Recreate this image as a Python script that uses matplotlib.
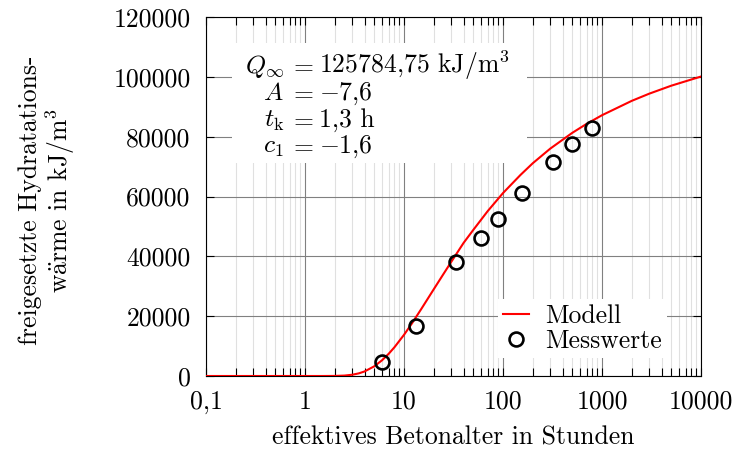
import numpy as np
import matplotlib
matplotlib.use('Agg')
import matplotlib.pyplot as plt
from matplotlib.patches import Rectangle

plt.rcParams['font.family'] = 'serif'
plt.rcParams['font.serif'] = ['cmr10']
plt.rcParams['mathtext.fontset'] = 'cm'
plt.rcParams['axes.formatter.use_mathtext'] = True
plt.rcParams['font.size'] = 18.5

# Modell
t_model = [0.1, 0.5, 1, 1.5, 2, 2.5, 3, 3.5, 4, 5, 6, 7, 8, 10, 12, 15, 20, 25, 30,
           40, 50, 70, 100, 150, 200, 300, 500, 700, 1000, 2000, 3000, 5000, 10000]
q_model = [0, 0, 0, 1, 25, 141, 419, 884, 1527, 3229, 5255, 7419, 9594, 13760, 17540,
           22480, 29020, 34060, 38150, 44500, 48790, 55100, 61150, 67190, 71130, 76000,
           81260, 84290, 87170, 91980, 94370, 97030, 100100]

# Messwerte
t_mess = [6.0, 13.2, 33.5, 59.6, 89.7, 156.7, 317.6, 494, 798]
q_mess = [4700, 16800, 38000, 46200, 52500, 61100, 71400, 77500, 83000]

x_ticks = [0.1, 1, 10, 100, 1000, 10000]
x_labels = ['0,1', '1', '10', '100', '1000', '10000']
y_ticks = [0, 20000, 40000, 60000, 80000, 100000, 120000]

fig = plt.figure(figsize=(7.37, 4.59), dpi=100)
ax = fig.add_axes([206 / 737, 1 - 376 / 459, 495 / 737, 359 / 459])

ax.plot(t_model, q_model, color='red', lw=1.5, zorder=3, label='Modell')
ax.plot(t_mess, q_mess, 'o', ms=10, mfc='none', mec='black', mew=1.9, zorder=4,
        label='Messwerte')

ax.set_xscale('log')
ax.set_xlim(0.1, 10000)
ax.set_ylim(0, 120000)
ax.set_xticks(x_ticks)
ax.set_xticklabels(x_labels)
ax.set_yticks(y_ticks)
ax.set_yticklabels([str(v) for v in y_ticks])
ax.xaxis.set_minor_locator(matplotlib.ticker.LogLocator(base=10, subs=np.arange(2, 10)))
ax.xaxis.set_minor_formatter(matplotlib.ticker.NullFormatter())

ax.tick_params(which='both', direction='in', top=True, right=True, length=5.5,
               width=0.8, color='black')
ax.tick_params(axis='x', which='major', pad=10)
ax.tick_params(axis='y', which='major', pad=11)

ax.set_axisbelow(True)
ax.grid(which='major', axis='both', color='#808080', lw=0.8)
ax.grid(which='minor', axis='x', color='#e0e0e0', lw=0.8)

for s in ax.spines.values():
    s.set_linewidth(0.8)

ax.set_xlabel('effektives Betonalter in Stunden', labelpad=9)
ax.set_ylabel('freigesetzte Hydratations-\nw$\\ddot{\\mathrm{a}}$rme in kJ/m$^3$',
              linespacing=1.05)
ax.yaxis.set_label_coords(-0.261, 0.49)

# parameter box
ax.add_patch(Rectangle((0.053, 0.593), 0.595, 0.335, transform=ax.transAxes,
                       facecolor='white', edgecolor='none', zorder=1))

def ax_xy(px, py):
    return (px - 206) / 495, (376 - py) / 359

rows = [
    (r'$Q_\infty$', '125784,75 kJ/m$^3$', 73),
    (r'$A$', '$-$7,6', 100),
    (r'$t_\mathrm{k}$', '1,3 h', 127),
    (r'$c_1$', '$-$1,6', 153),
]
for left, right, base in rows:
    x0, y0 = ax_xy(284, base)
    ax.text(x0, y0, left, transform=ax.transAxes, ha='right', va='baseline', zorder=5)
    x1, _ = ax_xy(302, base)
    ax.text(x1, y0, '$=$', transform=ax.transAxes, ha='center', va='baseline', zorder=5)
    x2, _ = ax_xy(319, base)
    ax.text(x2, y0, right, transform=ax.transAxes, ha='left', va='baseline', zorder=5)

leg = ax.legend(loc='lower right', bbox_to_anchor=(0.932, 0.051), frameon=True,
                fancybox=False, framealpha=1, edgecolor='white', borderpad=0.2,
                handlelength=1.0, handletextpad=0.65, labelspacing=0.05, borderaxespad=0)
leg.get_frame().set_linewidth(0)

fig.savefig('out.png', dpi=100)
